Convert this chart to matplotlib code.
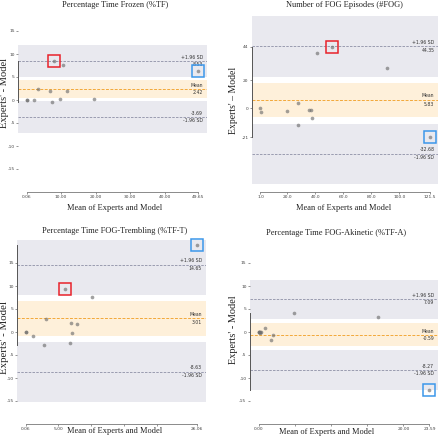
import numpy as np
import matplotlib
matplotlib.use("Agg")
import matplotlib.pyplot as plt


# ---- Données ---- #

titres = ["Percentage Time Frozen (%TF)",
          "Number of FOG Episodes (#FOG)",
          "Percentage Time FOG-Trembling (%TF-T)",
          "Percentage Time FOG-Akinetic (%TF-A)"]
ylabels = ["Experts' - Model", "Experts' \u2013 Model",
           "Experts' - Model", "Experts' - Model"]
xlabel = "Mean of Experts and Model"

# %TF
tf_moy = [0.06, 0.06, 2.2, 3.2, 6.7, 7.3, 8.0, 9.7, 10.4, 11.8, 19.4, 49.65]
tf_diff = [0.0, 0.0, 0.0, 2.5, 2.0, -0.35, 8.5, 0.2, 7.6, 1.9, 0.3, 6.4]
# #FOG
fog_moy = [1.0, 1.5, 20.0, 28.0, 27.5, 35.5, 37.0, 37.5, 41.0, 52.0, 91.5, 121.5]
fog_diff = [0, -3, -2, 4, -12, -1, -1, -7, 40, 44, 29, -21]
# %TF-T
tft_moy = [0.06, 0.06, 1.17, 2.85, 3.11, 6.0, 6.87, 6.8, 7.0, 7.88, 10.05, 26.06]
tft_diff = [0.0, 0.0, -0.8, -2.8, 2.75, 9.45, 1.95, -2.45, -0.2, 1.67, 7.55, 19.0]
# %TF-A
tfa_moy = [0.0, 0.05, 0.1, 0.15, 0.2, 0.3, 0.83, 1.75, 1.98, 4.9, 16.5, 23.59]
tfa_diff = [0.0, -0.1, 0.0, -0.2, -0.1, 0.05, 0.87, -1.68, -0.72, 4.2, 3.2, -12.6]

moyennes = [tf_moy, fog_moy, tft_moy, tfa_moy]
differences = [tf_diff, fog_diff, tft_diff, tfa_diff]

# statistiques affichées
biais = [2.42, 5.83, 3.01, -0.59]
loa_haut = [8.53, 44.35, 14.65, 7.09]
loa_bas = [-3.69, -32.68, -8.63, -8.27]

# points encadrés (indices)
idx_rouge = [6, 9, 5, None]
idx_bleu = [11, 11, 11, 11]

xticks = [[0.06, 10, 20, 30, 40, 49.65],
          [1.0, 20, 40, 60, 80, 100, 121.5],
          [0.06, 5, 10, 15, 20, 26.06],
          [0.0, 5, 10, 15, 20, 23.59]]
# étiquettes cachées par le titre de l'axe x dans l'original
xlabels_ticks = [["0.06", "10.00", "20.00", "30.00", "40.00", "49.65"],
                 ["1.0", "20.0", "40.0", "60.0", "80.0", "100.0", "121.5"],
                 ["0.06", "5.00", "", "", "", "26.06"],
                 ["0.00", "", "", "", "20.00", "23.59"]]
yticks = [[-15, -10, -5, 0, 5, 10, 15],
          [-21, 0, 20, 44],
          [-15, -10, -5, 0, 5, 10, 15],
          [-15, -10, -5, 0, 5, 10, 15]]
ylims = [(-20, 20), (-60.3, 72), (-20, 20), (-20, 20)]

T_95 = 2.201  # t de Student, 11 ddl

# ---- Mise en page (pixels) ---- #
W, H = 440, 438
# rect axes: gauche, haut, droite, bas ; titre ; xlabel ; ylabel
layout = [
    dict(rect=(18.3, 8, 206.7, 192), titre=(115, 5), xl=(115, 208), yl=(4.5, 93), ys=7.6),
    dict(rect=(252, 8, 438, 192), titre=(344, 5), xl=(344, 208), yl=(233, 100), ys=7.0),
    dict(rect=(17.3, 240, 205.7, 424), titre=(115, 231), xl=(115, 431.3), yl=(4.5, 338), ys=7.8),
    dict(rect=(250, 240, 438, 424), titre=(336, 233), xl=(326.5, 432.3), yl=(233, 330), ys=7.4),
]

GRIS = "#E9E9EF"
ORANGE = "#FEF0DA"
COUL_TXT = "#333333"

fig = plt.figure(figsize=(W / 100, H / 100), dpi=100)


def bland_altman(ax, moy, diff, md, haut, bas, k):
    moy = np.asarray(moy, dtype=float)
    diff = np.asarray(diff, dtype=float)
    n = len(diff)
    sd = (haut - md) / 1.96
    ic_moy = T_95 * sd / np.sqrt(n)
    ic_loa = T_95 * sd * np.sqrt(3.0 / n)

    # bandes de confiance
    ax.axhspan(haut - ic_loa, haut + ic_loa, color=GRIS, lw=0, zorder=0)
    ax.axhspan(bas - ic_loa, bas + ic_loa, color=GRIS, lw=0, zorder=0)
    ax.axhspan(md - ic_moy, md + ic_moy, color=ORANGE, lw=0, zorder=0)

    ax.axhline(md, color="#F2A83A", ls=(0, (3, 1.5)), lw=0.7, zorder=1)
    ax.axhline(haut, color="#8E90A6", ls=(0, (3, 1.5)), lw=0.6, zorder=1)
    ax.axhline(bas, color="#8E90A6", ls=(0, (3, 1.5)), lw=0.6, zorder=1)

    ax.scatter(moy, diff, s=7, color="#6f6f6f", alpha=0.65, lw=0, zorder=3)

    if idx_rouge[k] is not None:
        i = idx_rouge[k]
        ax.plot(moy[i], diff[i], marker="s", ms=8.6, mfc="none", mec="#E8222B",
                mew=1.1, zorder=4, clip_on=False)
    if idx_bleu[k] is not None:
        i = idx_bleu[k]
        ax.plot(moy[i], diff[i], marker="s", ms=8.6, mfc="none", mec="#3C97EA",
                mew=1.1, zorder=4, clip_on=False)

    # étiquettes à droite
    trans = ax.get_yaxis_transform()
    off = (haut - bas) / 100.0 * 1.5
    kw = dict(ha="right", fontsize=3.3, color=COUL_TXT, transform=trans)
    ax.text(0.98, md + off, "Mean", va="bottom", **kw)
    ax.text(0.98, md - off, f"{md:.2f}", va="top", **kw)
    ax.text(0.98, haut + off, "+1.96 SD", va="bottom", **kw)
    ax.text(0.98, haut - off, f"{haut:.2f}", va="top", **kw)
    ax.text(0.98, bas + off, f"{bas:.2f}", va="bottom", **kw)
    ax.text(0.98, bas - off, "-1.96 SD", va="top", **kw)

    ax.set_ylim(ylims[k])
    ax.set_xticks(xticks[k])
    ax.set_xticklabels(xlabels_ticks[k])
    ax.set_yticks(yticks[k])
    ax.set_yticklabels([str(v) for v in yticks[k]])

    ax.spines["left"].set_bounds(diff.min(), diff.max())
    ax.spines["bottom"].set_bounds(moy.min(), moy.max())
    ax.spines["top"].set_visible(False)
    ax.spines["right"].set_visible(False)
    ax.spines["left"].set_color("#555555")
    ax.spines["bottom"].set_color("#777777")
    ax.spines["left"].set_linewidth(0.7)
    ax.spines["bottom"].set_linewidth(0.6)
    ax.tick_params(labelsize=3.2, length=1.5, width=0.4, pad=1,
                   colors="#444444")
    ax.patch.set_alpha(0)


for k in range(4):
    L = layout[k]
    g, h, d, b = L["rect"]
    ax = fig.add_axes([g / W, 1 - b / H, (d - g) / W, (b - h) / H])
    bland_altman(ax, moyennes[k], differences[k], biais[k], loa_haut[k], loa_bas[k], k)

    fig.text(L["titre"][0] / W, 1 - L["titre"][1] / H, titres[k], ha="center",
             va="center", fontsize=6, family="Liberation Serif", color="#222222")
    fig.text(L["xl"][0] / W, 1 - L["xl"][1] / H, xlabel, ha="center", va="center",
             fontsize=6.0, family="Liberation Serif", color="#222222",
             bbox=dict(facecolor="white", edgecolor="none", pad=0.5))
    fig.text(L["yl"][0] / W, 1 - L["yl"][1] / H, ylabels[k], ha="center",
             va="center", rotation=90, fontsize=L["ys"], family="Liberation Serif",
             color="#222222")

fig.savefig("out.png", dpi=100)
